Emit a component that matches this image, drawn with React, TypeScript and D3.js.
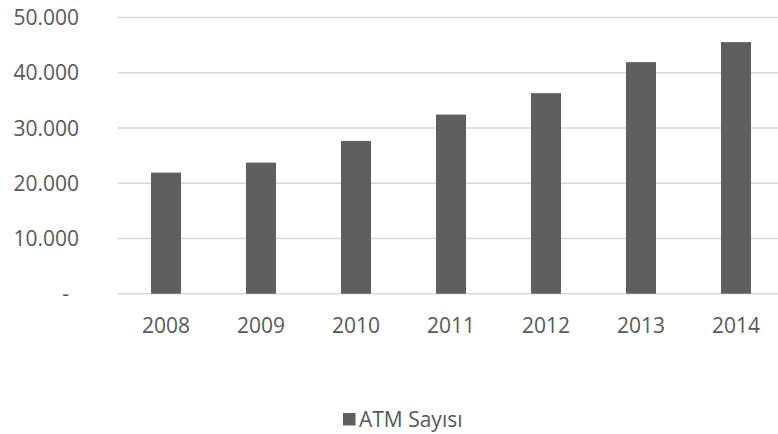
import React from "react";
import * as d3 from "d3";

const years = ["2008", "2009", "2010", "2011", "2012", "2013", "2014"];
const atmCounts = [21920, 23730, 27660, 32430, 36300, 41920, 45540];
const yTicks = [0, 10000, 20000, 30000, 40000, 50000];
const seriesName = "ATM Sayısı";

const W = 778;
const H = 434;
const FONT = "'Open Sans', 'Noto Sans', sans-serif";
const FS = 21;

export default function App() {
  const x = d3
    .scaleBand<string>()
    .domain(years)
    .range([118.5, 783.5])
    .paddingInner(0.684)
    .paddingOuter(0.342);
  const y = d3.scaleLinear().domain([0, 50000]).range([293.7, 17.5]);
  const fmt = (v: number) =>
    v === 0 ? "-" : d3.format(",")(v).replace(/,/g, ".");

  return (
    <svg
      width={W}
      height={H}
      style={{ position: "absolute", left: 0, top: 0, background: "#fff" }}
      fontFamily={FONT}
    >
      {yTicks.map((t) => (
        <g key={t}>
          <line
            x1={118}
            x2={W}
            y1={y(t)}
            y2={y(t)}
            stroke="#d9d9d9"
            strokeWidth={1.5}
          />
          <text
            x={t === 0 ? 69 : 79}
            y={y(t)}
            dy="0.36em"
            textAnchor="end"
            fontSize={FS}
            fill="#595959"
          >
            {fmt(t)}
          </text>
        </g>
      ))}
      {years.map((yr, i) => (
        <rect
          key={yr}
          x={x(yr)}
          y={y(atmCounts[i])}
          width={x.bandwidth()}
          height={y(0) - y(atmCounts[i])}
          fill="#5f5f5f"
        />
      ))}
      {years.map((yr) => (
        <text
          key={yr}
          x={(x(yr) as number) + x.bandwidth() / 2}
          y={333}
          textAnchor="middle"
          fontSize={FS}
          fill="#595959"
        >
          {yr}
        </text>
      ))}
      <rect x={343} y={413} width={12.5} height={12.5} fill="#5f5f5f" />
      <text x={359} y={426.5} fontSize={FS} fill="#595959">
        {seriesName}
      </text>
    </svg>
  );
}
